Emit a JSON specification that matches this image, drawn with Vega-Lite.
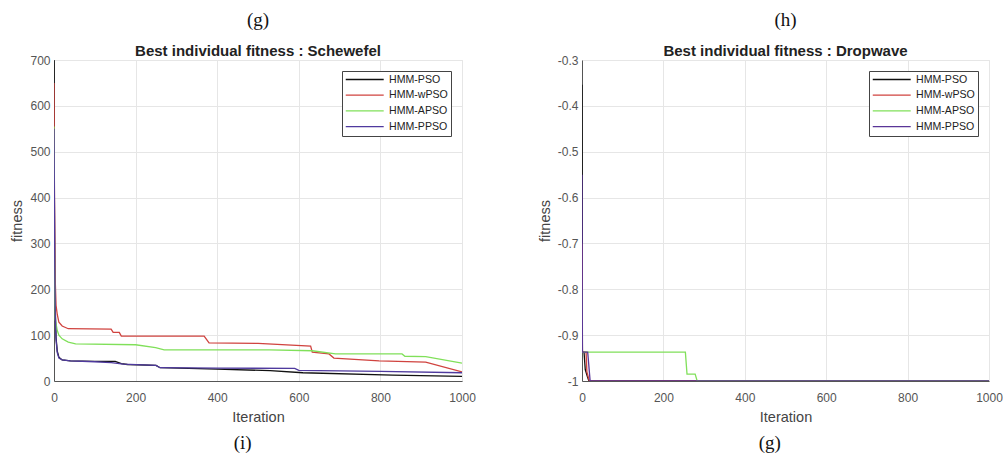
{
  "$schema": "https://vega.github.io/schema/vega-lite/v6.json",
  "padding": {"left": 9, "top": 10, "right": 0, "bottom": 5},
  "background": "white",
  "spacing": 60,
  "datasets": {
    "schwefel": [
      {"method": "HMM-PSO", "it": 0, "f": 700}, {"method": "HMM-PSO", "it": 1, "f": 400}, {"method": "HMM-PSO", "it": 2, "f": 250}, {"method": "HMM-PSO", "it": 3, "f": 160}, {"method": "HMM-PSO", "it": 5, "f": 95}, {"method": "HMM-PSO", "it": 8, "f": 65}, {"method": "HMM-PSO", "it": 12, "f": 52}, {"method": "HMM-PSO", "it": 20, "f": 46}, {"method": "HMM-PSO", "it": 40, "f": 44}, {"method": "HMM-PSO", "it": 100, "f": 43}, {"method": "HMM-PSO", "it": 150, "f": 43}, {"method": "HMM-PSO", "it": 165, "f": 38}, {"method": "HMM-PSO", "it": 180, "f": 36}, {"method": "HMM-PSO", "it": 250, "f": 34}, {"method": "HMM-PSO", "it": 260, "f": 29}, {"method": "HMM-PSO", "it": 400, "f": 26}, {"method": "HMM-PSO", "it": 530, "f": 22.5}, {"method": "HMM-PSO", "it": 610, "f": 18}, {"method": "HMM-PSO", "it": 830, "f": 13}, {"method": "HMM-PSO", "it": 1000, "f": 10},
      {"method": "HMM-wPSO", "it": 0, "f": 650}, {"method": "HMM-wPSO", "it": 1, "f": 420}, {"method": "HMM-wPSO", "it": 2, "f": 300}, {"method": "HMM-wPSO", "it": 3, "f": 220}, {"method": "HMM-wPSO", "it": 5, "f": 165}, {"method": "HMM-wPSO", "it": 8, "f": 145}, {"method": "HMM-wPSO", "it": 12, "f": 128}, {"method": "HMM-wPSO", "it": 20, "f": 120}, {"method": "HMM-wPSO", "it": 35, "f": 114}, {"method": "HMM-wPSO", "it": 140, "f": 113}, {"method": "HMM-wPSO", "it": 145, "f": 106}, {"method": "HMM-wPSO", "it": 160, "f": 106}, {"method": "HMM-wPSO", "it": 165, "f": 98}, {"method": "HMM-wPSO", "it": 368, "f": 98}, {"method": "HMM-wPSO", "it": 380, "f": 83}, {"method": "HMM-wPSO", "it": 500, "f": 82}, {"method": "HMM-wPSO", "it": 629, "f": 76}, {"method": "HMM-wPSO", "it": 633, "f": 63}, {"method": "HMM-wPSO", "it": 674, "f": 59}, {"method": "HMM-wPSO", "it": 686, "f": 50}, {"method": "HMM-wPSO", "it": 797, "f": 44}, {"method": "HMM-wPSO", "it": 911, "f": 41}, {"method": "HMM-wPSO", "it": 1000, "f": 20},
      {"method": "HMM-APSO", "it": 0, "f": 555}, {"method": "HMM-APSO", "it": 1, "f": 300}, {"method": "HMM-APSO", "it": 2, "f": 180}, {"method": "HMM-APSO", "it": 3, "f": 135}, {"method": "HMM-APSO", "it": 5, "f": 125}, {"method": "HMM-APSO", "it": 8, "f": 110}, {"method": "HMM-APSO", "it": 12, "f": 100}, {"method": "HMM-APSO", "it": 20, "f": 92}, {"method": "HMM-APSO", "it": 35, "f": 85}, {"method": "HMM-APSO", "it": 53, "f": 81}, {"method": "HMM-APSO", "it": 200, "f": 79}, {"method": "HMM-APSO", "it": 249, "f": 73}, {"method": "HMM-APSO", "it": 270, "f": 68}, {"method": "HMM-APSO", "it": 527, "f": 68}, {"method": "HMM-APSO", "it": 633, "f": 66}, {"method": "HMM-APSO", "it": 690, "f": 59}, {"method": "HMM-APSO", "it": 853, "f": 59}, {"method": "HMM-APSO", "it": 860, "f": 54}, {"method": "HMM-APSO", "it": 911, "f": 53}, {"method": "HMM-APSO", "it": 1000, "f": 39},
      {"method": "HMM-PPSO", "it": 0, "f": 550}, {"method": "HMM-PPSO", "it": 1, "f": 380}, {"method": "HMM-PPSO", "it": 2, "f": 230}, {"method": "HMM-PPSO", "it": 3, "f": 150}, {"method": "HMM-PPSO", "it": 5, "f": 90}, {"method": "HMM-PPSO", "it": 8, "f": 62}, {"method": "HMM-PPSO", "it": 12, "f": 50}, {"method": "HMM-PPSO", "it": 20, "f": 46}, {"method": "HMM-PPSO", "it": 40, "f": 44}, {"method": "HMM-PPSO", "it": 100, "f": 42}, {"method": "HMM-PPSO", "it": 140, "f": 40}, {"method": "HMM-PPSO", "it": 170, "f": 37}, {"method": "HMM-PPSO", "it": 250, "f": 34}, {"method": "HMM-PPSO", "it": 260, "f": 29}, {"method": "HMM-PPSO", "it": 400, "f": 28}, {"method": "HMM-PPSO", "it": 590, "f": 27.5}, {"method": "HMM-PPSO", "it": 600, "f": 23}, {"method": "HMM-PPSO", "it": 800, "f": 21}, {"method": "HMM-PPSO", "it": 1000, "f": 18}
    ],
    "dropwave": [
      {"method": "HMM-PSO", "it": 0, "f": -0.354}, {"method": "HMM-PSO", "it": 1, "f": -0.937}, {"method": "HMM-PSO", "it": 5, "f": -0.937}, {"method": "HMM-PSO", "it": 8, "f": -0.975}, {"method": "HMM-PSO", "it": 13, "f": -0.99}, {"method": "HMM-PSO", "it": 17, "f": -1}, {"method": "HMM-PSO", "it": 1000, "f": -1},
      {"method": "HMM-wPSO", "it": 0, "f": -0.7}, {"method": "HMM-wPSO", "it": 1, "f": -0.937}, {"method": "HMM-wPSO", "it": 10, "f": -0.937}, {"method": "HMM-wPSO", "it": 12, "f": -0.98}, {"method": "HMM-wPSO", "it": 18, "f": -1}, {"method": "HMM-wPSO", "it": 1000, "f": -1},
      {"method": "HMM-APSO", "it": 0, "f": -0.8}, {"method": "HMM-APSO", "it": 1, "f": -0.937}, {"method": "HMM-APSO", "it": 254, "f": -0.937}, {"method": "HMM-APSO", "it": 258, "f": -0.985}, {"method": "HMM-APSO", "it": 278, "f": -0.985}, {"method": "HMM-APSO", "it": 283, "f": -1}, {"method": "HMM-APSO", "it": 1000, "f": -1},
      {"method": "HMM-PPSO", "it": 0, "f": -0.55}, {"method": "HMM-PPSO", "it": 1, "f": -0.937}, {"method": "HMM-PPSO", "it": 14, "f": -0.937}, {"method": "HMM-PPSO", "it": 20, "f": -1}, {"method": "HMM-PPSO", "it": 1000, "f": -1}
    ]
  },
  "hconcat": [
    {
      "title": {"text": "(i)", "orient": "bottom", "offset": 10},
      "resolve": {"scale": {"color": "independent"}, "legend": {"color": "independent"}},
      "vconcat": [
        {
          "width": 408,
          "height": 321,
          "title": {"text": "(g)", "subtitle": "Best individual fitness : Schewefel"},
          "data": {"name": "schwefel"},
          "mark": {"type": "line", "strokeWidth": 1.3, "clip": true},
          "encoding": {
            "x": {"field": "it", "type": "quantitative", "title": "Iteration", "scale": {"domain": [0, 1000], "nice": false}, "axis": {"values": [0, 200, 400, 600, 800, 1000], "format": "d"}},
            "y": {"field": "f", "type": "quantitative", "title": "fitness", "scale": {"domain": [0, 700], "nice": false}, "axis": {"values": [0, 100, 200, 300, 400, 500, 600, 700]}},
            "color": {"field": "method", "type": "nominal", "sort": null, "scale": {"domain": ["HMM-PSO", "HMM-wPSO", "HMM-APSO", "HMM-PPSO"], "range": ["#111111", "#d0433f", "#80e05a", "#4f3a9e"]}, "legend": {"title": null, "orient": "top-right", "offset": 11}}
          }
        }
      ]
    },
    {
      "title": {"text": "(g)", "orient": "bottom", "offset": 10},
      "resolve": {"scale": {"color": "independent"}, "legend": {"color": "independent"}},
      "vconcat": [
        {
          "width": 407,
          "height": 321,
          "title": {"text": "(h)", "subtitle": "Best individual fitness : Dropwave"},
          "data": {"name": "dropwave"},
          "mark": {"type": "line", "strokeWidth": 1.3, "clip": true},
          "encoding": {
            "x": {"field": "it", "type": "quantitative", "title": "Iteration", "scale": {"domain": [0, 1000], "nice": false}, "axis": {"values": [0, 200, 400, 600, 800, 1000], "format": "d"}},
            "y": {"field": "f", "type": "quantitative", "title": "fitness", "scale": {"domain": [-1, -0.3], "nice": false, "zero": false}, "axis": {"values": [-1, -0.9, -0.8, -0.7, -0.6, -0.5, -0.4, -0.3], "labelExpr": "replace(format(datum.value, '.1~f'), '−', '-')"}},
            "color": {"field": "method", "type": "nominal", "sort": null, "scale": {"domain": ["HMM-PSO", "HMM-wPSO", "HMM-APSO", "HMM-PPSO"], "range": ["#111111", "#d0433f", "#80e05a", "#5a3597"]}, "legend": {"title": null, "orient": "top-right", "offset": 11}}
          }
        }
      ]
    }
  ],
  "resolve": {"scale": {"color": "independent"}, "legend": {"color": "independent"}},
  "config": {
    "font": "Liberation Sans",
    "view": {"stroke": "#e2e2e2"},
    "title": {"font": "Liberation Serif", "fontSize": 19, "fontWeight": "normal", "color": "#111", "anchor": "middle", "subtitleFont": "Liberation Sans", "subtitleFontSize": 15, "subtitleFontWeight": "bold", "subtitleColor": "#222", "subtitlePadding": 14, "offset": -5},
    "axis": {"labelFont": "Liberation Sans", "labelFontSize": 12, "labelColor": "#555", "titleFont": "Liberation Sans", "titleFontSize": 14.5, "titleFontWeight": "normal", "titleColor": "#444", "gridColor": "#e6e6e6", "domainColor": "#555", "ticks": false, "labelPadding": 4, "labelFlush": false},
    "axisX": {"labelPadding": 11, "titlePadding": 7},
    "axisY": {"titlePadding": 5},
    "legend": {"strokeColor": "#444", "fillColor": "white", "padding": 3, "labelFont": "Liberation Sans", "labelFontSize": 10.6, "labelColor": "#222", "symbolType": "M-1,0H7", "symbolSize": 90, "symbolStrokeWidth": 1.3, "rowPadding": 3.7, "labelOffset": 33}
  }
}
